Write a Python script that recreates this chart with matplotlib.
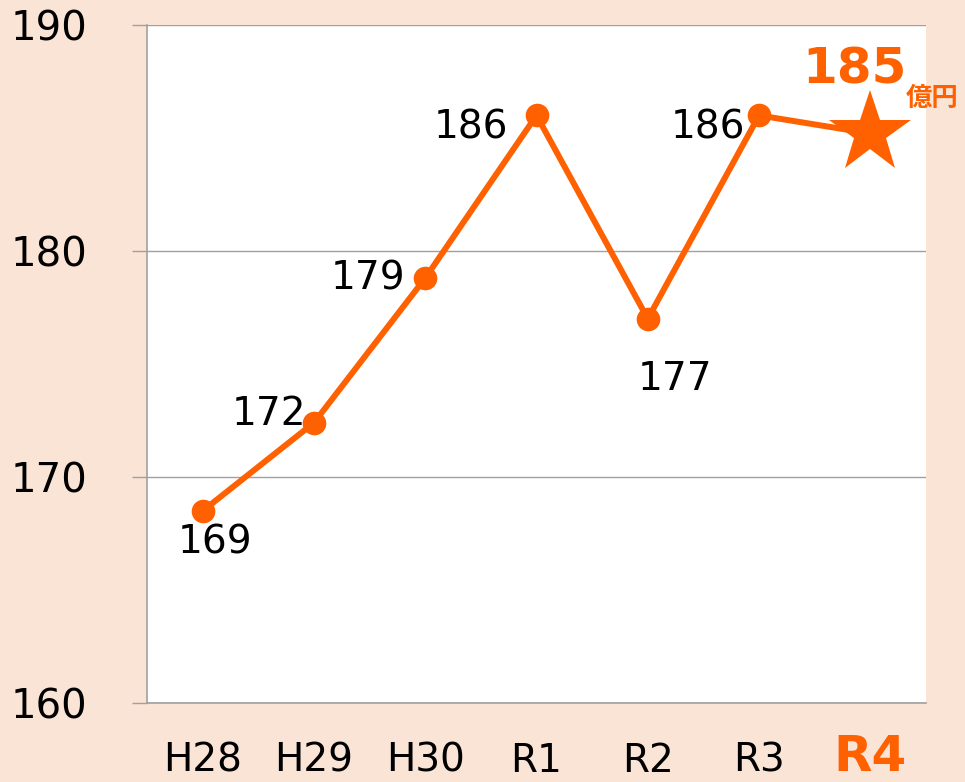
import matplotlib.pyplot as plt

years = ['H28', 'H29', 'H30', 'R1', 'R2', 'R3', 'R4']
values = [168.5, 172.4, 178.8, 186.0, 177.0, 186.0, 185.2]
labels = ['169', '172', '179', '186', '177', '186']
# label offsets in pixels (dx, dy, ha, va)
label_pos = [(12, -32, 'center', 'center'),
             (-8, 9, 'right', 'center'),
             (-20, 0, 'right', 'center'),
             (-28, -12, 'right', 'center'),
             (27, -60, 'center', 'center'),
             (-14, -12, 'right', 'center')]

orange = '#FF6000'
bg = '#FAE4D6'
grid = '#A0A0A0'

fig = plt.figure(figsize=(9.65, 7.82), dpi=100, facecolor=bg)
ax = fig.add_axes([147 / 965, 79 / 782, 779 / 965, 678 / 782])
ax.set_facecolor('white')

x = list(range(len(years)))
ax.plot(x, values, color=orange, lw=4.3, zorder=3)
ax.plot(x[:-1], values[:-1], 'o', color=orange, ms=16, zorder=4)
ax.plot(x[-1], values[-1], '*', color=orange, ms=62, mew=0, zorder=4)

for i, lab in enumerate(labels):
    dx, dy, ha, va = label_pos[i]
    ax.annotate(lab, (x[i], values[i]), xytext=(dx, dy), textcoords='offset pixels',
                ha=ha, va=va, fontsize=28, color='black', zorder=5)

ax.annotate('185', (x[-1], values[-1]), xytext=(-16, 64), textcoords='offset pixels',
            ha='center', va='center', fontsize=36, fontweight='bold', color=orange)
ax.annotate('億円', (x[-1], values[-1]), xytext=(62, 35), textcoords='offset pixels',
            ha='center', va='center', fontsize=19, fontweight='bold', color=orange,
            family=['Noto Sans CJK JP', 'DejaVu Sans'])

ax.set_xlim(-0.5, 6.5)
ax.set_ylim(160, 190)
ax.set_yticks([160, 170, 180, 190])
ax.set_xticks(x)
ax.set_xticklabels(years[:-1] + [''])
ax.text(x[-1], -0.1, years[-1], transform=ax.get_xaxis_transform(),
        ha='center', va='baseline', fontsize=36, fontweight='bold', color=orange)
ax.yaxis.grid(True, color=grid, lw=1)
ax.set_axisbelow(True)
ax.tick_params(axis='y', length=11, width=1, color=grid, pad=32, labelsize=29)
ax.tick_params(axis='x', length=0, pad=28, labelsize=28)
for s in ['top', 'right']:
    ax.spines[s].set_visible(False)
for s in ['left', 'bottom']:
    ax.spines[s].set_color(grid)
    ax.spines[s].set_linewidth(1.2)

fig.savefig('out.png', dpi=100, facecolor=bg)
